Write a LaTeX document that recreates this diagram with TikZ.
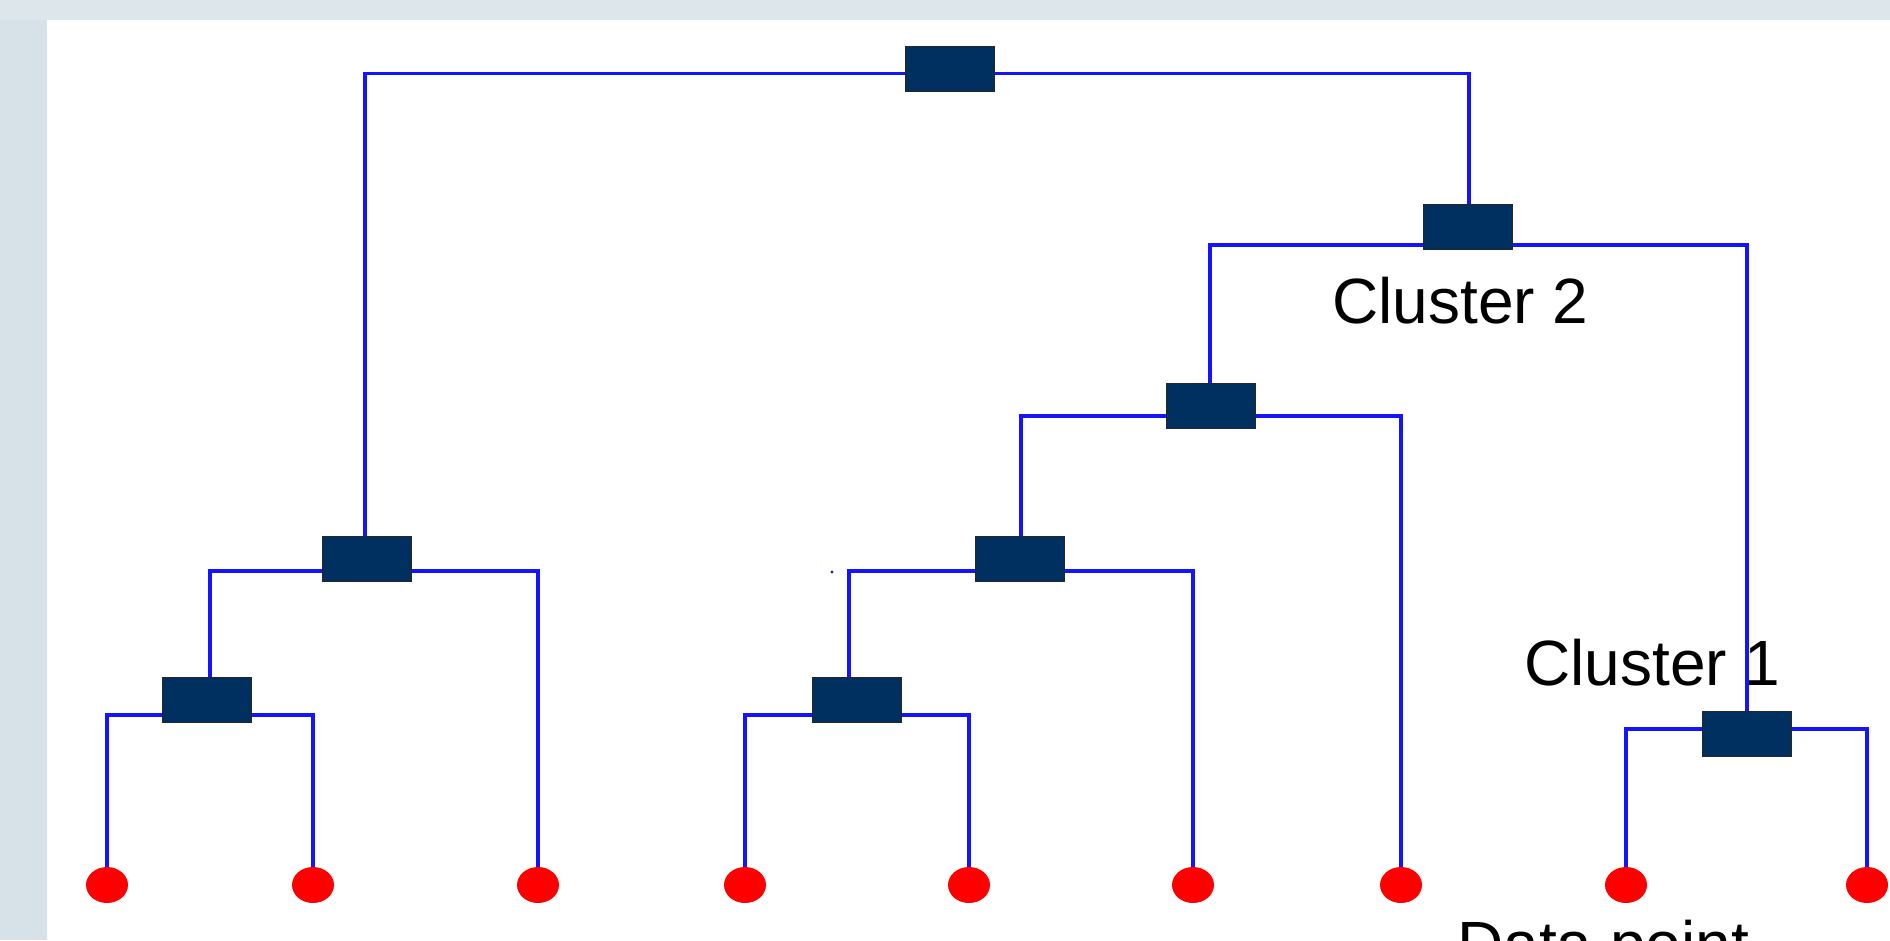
\documentclass[tikz,border=0pt]{standalone}
\usepackage{fontspec}
\setmainfont{Liberation Sans}
\usetikzlibrary{shapes.geometric}
\definecolor{frameA}{RGB}{221,230,234}
\definecolor{frameB}{RGB}{214,226,231}
\definecolor{navy}{RGB}{0,48,96}
\definecolor{linkblue}{RGB}{20,20,255}
\pgfdeclarelayer{frame}
\pgfdeclarelayer{links}
\pgfsetlayers{frame,links,main}
\begin{document}
\begin{tikzpicture}[x=1pt,y=-1pt,
  merge/.style={rectangle, fill=navy, draw=black!85, line width=1.5pt,
    minimum width=89pt, minimum height=45pt, inner sep=0pt},
  leaf/.style={ellipse, fill=red, draw=none, minimum width=42pt,
    minimum height=36pt, inner sep=0pt},
  link/.style={draw=linkblue, line width=3.4pt, line join=miter},
  label/.style={font=\fontsize{64}{76}\selectfont, inner sep=0pt, anchor=base west}]
  \useasboundingbox (0,0) rectangle (1890,940);

  % page frame
  \begin{pgfonlayer}{frame}
    \fill[frameA] (0,0) rectangle (1890,940);
    \fill[frameB] (0,20) rectangle (47,940);
    \fill[white] (47,20) rectangle (1890,940);
  \end{pgfonlayer}

  % data points
  \foreach \n/\x in {1/107,2/313,3/538,4/745,5/969,6/1193,7/1401,8/1626,9/1867}
    \node[leaf] (p\n) at (\x,885) {};

  % merge boxes
  \node[merge] (top) at (950,69) {};
  \node[merge] (rA)  at (1468,227) {};
  \node[merge] (cB)  at (1211,406) {};
  \node[merge] (mA)  at (1020,559) {};
  \node[merge] (mB)  at (857,700) {};
  \node[merge] (lA)  at (367,559) {};
  \node[merge] (lB)  at (207,700) {};
  \node[merge] (cA)  at (1747,734) {};

  % bar height of each merge
  \coordinate (jtop) at (950,73.5);
  \coordinate (jrA)  at (1468,245);
  \coordinate (jcB)  at (1211,416);
  \coordinate (jmA)  at (1020,571);
  \coordinate (jmB)  at (857,715);
  \coordinate (jlA)  at (367,571);
  \coordinate (jlB)  at (207,715);
  \coordinate (jcA)  at (1747,729);

  % labels
  \node[label] (c2) at (1332,323) {Cluster 2};
  \node[label] (c1) at (1524,685) {Cluster 1};
  \node[label] (dp) at (1457,966) {Data point};

  % dendrogram links, under the boxes
  \begin{pgfonlayer}{links}
    \draw[link] ([xshift=-2pt]lA.north) |- (jtop) -| ([xshift=1pt]rA.north);
    \draw[link] ([xshift=-1pt]cB.north) |- (jrA) -| (cA.north);
    \draw[link] ([xshift=1pt]mA.north) |- (jcB) -| (p7.north);
    \draw[link] ([xshift=-8pt]mB.north) |- (jmA) -| (p6.north);
    \draw[link] (p4.north) |- (jmB) -| (p5.north);
    \draw[link] ([xshift=3pt]lB.north) |- (jlA) -| (p3.north);
    \draw[link] (p1.north) |- (jlB) -| (p2.north);
    \draw[link] (p8.north) |- (jcA) -| (p9.north);
    % small speck left of the middle bar
    \fill[linkblue] (832,572) circle (1.6pt);
  \end{pgfonlayer}

  % the Cluster 1 stem runs over its label
  \draw[link] (cA.north) -- (cA.north |- c1.north);
\end{tikzpicture}
\end{document}
